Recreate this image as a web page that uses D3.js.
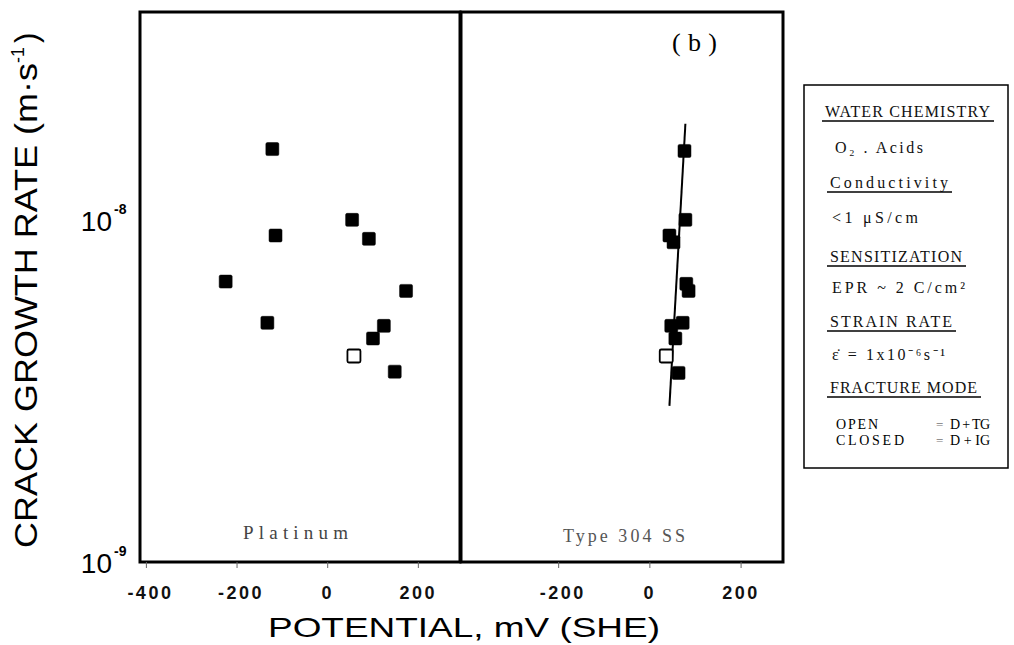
<!DOCTYPE html>
<html>
<head>
<meta charset="utf-8">
<script src="https://cdn.jsdelivr.net/npm/d3@7"></script>
<style>
  body { margin: 0; background: #fff; }
  svg { display: block; }
</style>
</head>
<body>
<div id="chart"></div>
<script>
// data
var platinumV    = [-121, -114, -224, -132, 55, 92, 174, 125, 101, 59, 149];
var platinumRate = [1.61e-8, 9.0e-9, 6.6e-9, 5.0e-9, 1.0e-8, 8.8e-9, 6.2e-9, 4.9e-9, 4.5e-9, 4.0e-9, 3.6e-9];
var platinumOpen = [false, false, false, false, false, false, false, false, false, true, false];

var ssV    = [77, 79, 44, 53, 81, 86, 48, 73, 57, 37, 64];
var ssRate = [1.59e-8, 1.0e-8, 9.0e-9, 8.6e-9, 6.5e-9, 6.2e-9, 4.9e-9, 5.0e-9, 4.5e-9, 4.0e-9, 3.57e-9];
var ssOpen = [false, false, false, false, false, false, false, false, false, true, false];

// fitted line through the 304 SS points (end points)
var ssFitV    = [79, 44];
var ssFitRate = [1.91e-8, 2.86e-9];

var xTicks = [-400, -200, 0, 200];
var yTicks = [1e-8, 1e-9];
var yTickExp = ["-8", "-9"];

var legendLines = ["WATER CHEMISTRY", "O\u2082 . Acids", "Conductivity", "<1 \u03BCS/cm",
  "SENSITIZATION", "EPR ~ 2 C/cm\u00B2", "STRAIN RATE",
  "\u03B5\u0307 = 1x10\u207B\u2076s\u207B\u00B9", "FRACTURE MODE"];
var legendHead = [true, false, true, false, true, false, true, false, true];
var fractureModes = [["OPEN", "D + TG"], ["CLOSED", "D + IG"]];

// legend layout (pixels)
var legX = [825, 835, 830, 832, 830, 832, 830, 832, 830];
var legY = [117, 153, 188, 223, 262, 293, 327, 360, 393];
var legW = [165, 88, 118, 86, 132, 133, 122, 113, 147];

var W = 1014, H = 645;
var svg = d3.select("#chart").append("svg")
  .attr("width", W).attr("height", H);

// scales
var y = d3.scaleLog().domain([1e-9, 4.05e-8]).range([562, 12]);
var xL = d3.scaleLinear().domain([-413, 293]).range([140, 460]);
var xR = d3.scaleLinear().domain([-413, 293]).range([461, 783]);

// panel frames
function frame(x) {
  var r = x.range();
  svg.append("rect")
    .attr("x", r[0]).attr("y", y.range()[1])
    .attr("width", r[1] - r[0]).attr("height", y.range()[0] - y.range()[1])
    .style("fill", "none").style("stroke", "#000").style("stroke-width", 3);
}
frame(xL);
frame(xR);

// x axes
[xL, xR].forEach(function(x, k) {
  var ticks = k == 0 ? xTicks : xTicks.slice(1);
  var g = svg.append("g")
    .attr("transform", "translate(0," + y.range()[0] + ")")
    .call(d3.axisBottom(x).tickValues(ticks).tickSize(6)
      .tickFormat(function(d) { return String(d); }));
  g.select(".domain").remove();
  g.selectAll(".tick line").style("stroke", "#666").style("stroke-width", 1);
  g.selectAll(".tick text")
    .attr("y", 24)
    .attr("dx", function(d) { return d < 0 ? 4 : 0; })
    .style("font-family", "Liberation Sans, Arial, sans-serif")
    .style("font-size", "18px").style("font-weight", "bold")
    .style("letter-spacing", "2.5px")
    .style("fill", "#111");
});

// y tick labels (10 with superscripts)
yTicks.forEach(function(t, i) {
  var yy = y(t);
  svg.append("text")
    .attr("x", 112).attr("y", yy + 11)
    .attr("text-anchor", "end")
    .style("font-family", "Liberation Sans, Arial, sans-serif")
    .style("font-size", "28px")
    .text("10");
  svg.append("text")
    .attr("x", 114).attr("y", yy - 6)
    .style("font-family", "Liberation Sans, Arial, sans-serif")
    .style("font-size", "14px").style("font-weight", "bold")
    .text(yTickExp[i]);
});

// axis titles
svg.append("text")
  .attr("x", 268).attr("y", 637)
  .attr("textLength", 392).attr("lengthAdjust", "spacingAndGlyphs")
  .style("font-family", "Liberation Sans, Arial, sans-serif")
  .style("font-size", "28px")
  .text("POTENTIAL, mV (SHE)");

var yt = svg.append("text")
  .attr("transform", "translate(37,548) rotate(-90)")
  .style("font-family", "Liberation Sans, Arial, sans-serif")
  .style("font-size", "31px");
yt.append("tspan").attr("textLength", 485).attr("lengthAdjust", "spacingAndGlyphs")
  .text("CRACK GROWTH RATE (m\u00B7s");
yt.append("tspan").attr("dy", -13).style("font-size", "18px").text("-1");
yt.append("tspan").attr("dy", 13).attr("dx", 4).text(")");

// points
function squares(x, vs, rs, open) {
  svg.append("g").selectAll("rect")
    .data(vs.map(function(v, i) { return {v: v, r: rs[i], open: open[i]}; }))
    .enter().append("rect")
      .attr("x", function(d) { return x(d.v) - 6.5; })
      .attr("y", function(d) { return y(d.r) - 6.5; })
      .attr("width", 13).attr("height", 13)
      .attr("rx", 1.5)
      .style("fill", function(d) { return d.open ? "#fff" : "#000"; })
      .style("stroke", "#000")
      .style("stroke-width", function(d) { return d.open ? 1.8 : 0.5; });
}
squares(xL, platinumV, platinumRate, platinumOpen);

// fit line for 304 SS
svg.append("path")
  .datum(ssFitV.map(function(v, i) { return [v, ssFitRate[i]]; }))
  .attr("d", d3.line().x(function(d) { return xR(d[0]); }).y(function(d) { return y(d[1]); }))
  .style("fill", "none").style("stroke", "#000").style("stroke-width", 2);

squares(xR, ssV, ssRate, ssOpen);

// panel labels
svg.append("text")
  .attr("x", 672).attr("y", 51)
  .attr("textLength", 45).attr("lengthAdjust", "spacing")
  .style("font-family", "Liberation Serif, serif").style("font-size", "26px")
  .text("(b)");
svg.append("text")
  .attr("x", 243).attr("y", 539)
  .attr("textLength", 105).attr("lengthAdjust", "spacing")
  .style("font-family", "Liberation Serif, serif").style("font-size", "19px")
  .style("fill", "#444")
  .text("Platinum");
svg.append("text")
  .attr("x", 563).attr("y", 542)
  .attr("textLength", 122).attr("lengthAdjust", "spacing")
  .style("font-family", "Liberation Serif, serif").style("font-size", "18px")
  .style("fill", "#555")
  .text("Type 304 SS");

// legend box
svg.append("rect")
  .attr("x", 804).attr("y", 85).attr("width", 204).attr("height", 383)
  .style("fill", "none").style("stroke", "#000").style("stroke-width", 1.5);

legendLines.forEach(function(d, i) {
  svg.append("text")
    .attr("x", legX[i]).attr("y", legY[i])
    .attr("textLength", legW[i]).attr("lengthAdjust", "spacing")
    .style("font-family", "Liberation Serif, serif")
    .style("font-size", "16px")
    .style("fill", "#111")
    .text(d);
  if (legendHead[i]) {
    svg.append("line")
      .attr("x1", legX[i] - 3).attr("x2", legX[i] + legW[i] + 4)
      .attr("y1", legY[i] + 4).attr("y2", legY[i] + 4)
      .style("stroke", "#000").style("stroke-width", 1.5);
  }
});

// fracture mode rows
fractureModes.forEach(function(r, i) {
  var yy = 429 + i * 16;
  svg.append("text").attr("x", 836).attr("y", yy)
    .attr("textLength", i == 0 ? 42 : 68).attr("lengthAdjust", "spacing")
    .style("font-family", "Liberation Serif, serif").style("font-size", "14px")
    .text(r[0]);
  svg.append("text").attr("x", 936).attr("y", yy)
    .style("font-family", "Liberation Serif, serif").style("font-size", "13px")
    .style("fill", "#777").text("=");
  svg.append("text").attr("x", 950).attr("y", yy)
    .attr("textLength", 40).attr("lengthAdjust", "spacing")
    .style("font-family", "Liberation Serif, serif").style("font-size", "14px")
    .text(r[1]);
});
</script>
</body>
</html>
